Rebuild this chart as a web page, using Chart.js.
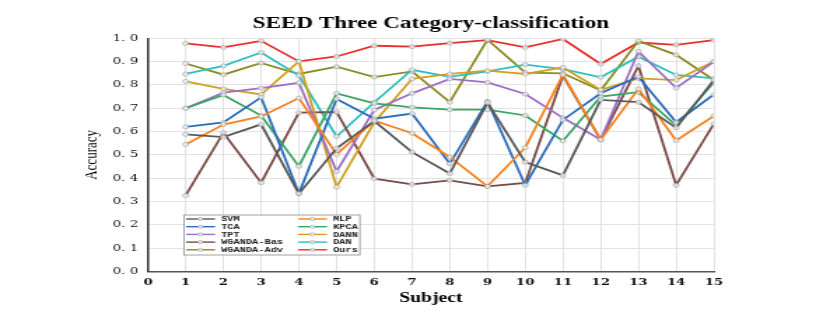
<!DOCTYPE html>
<html>
<head>
<meta charset="utf-8">
<script src="https://cdn.jsdelivr.net/npm/chart.js@4"></script>
<style>
  html, body { margin: 0; padding: 0; background: #fff; overflow: hidden; }
  #caixa { width: 593px; height: 327px; transform: scaleX(1.3997); transform-origin: 0 0; }
</style>
</head>
<body>
<div id="caixa"><canvas id="grafico" width="593" height="327"></canvas></div>
<script>
const subjects = [1, 2, 3, 4, 5, 6, 7, 8, 9, 10, 11, 12, 13, 14, 15];
const nomes = ['SVM', 'MLP', 'TCA', 'KPCA', 'TPT', 'DANN', 'WGANDA-Bas', 'DAN', 'WGANDA-Adv', 'Ours'];
const cores = ['#595959', '#f7821e', '#2b6cbd', '#38a660', '#9c70c6', '#d2a021', '#7a4a46', '#2dbfc2', '#8a8b25', '#e8302a'];

const svm = [0.588, 0.576, 0.631, 0.334, 0.528, 0.645, 0.512, 0.420, 0.724, 0.469, 0.412, 0.736, 0.726, 0.616, 0.821];
const mlp = [0.545, 0.630, 0.665, 0.744, 0.502, 0.647, 0.593, 0.491, 0.365, 0.531, 0.844, 0.565, 0.783, 0.562, 0.667];
const tca = [0.620, 0.639, 0.747, 0.334, 0.740, 0.655, 0.677, 0.462, 0.730, 0.370, 0.650, 0.764, 0.835, 0.640, 0.759];
const kpca = [0.700, 0.757, 0.669, 0.451, 0.764, 0.721, 0.704, 0.694, 0.694, 0.669, 0.560, 0.750, 0.769, 0.626, 0.811];
const tpt = [0.700, 0.767, 0.786, 0.809, 0.429, 0.693, 0.764, 0.826, 0.811, 0.761, 0.659, 0.565, 0.944, 0.787, 0.900];
const dann = [0.815, 0.783, 0.759, 0.901, 0.362, 0.640, 0.826, 0.847, 0.861, 0.847, 0.875, 0.779, 0.828, 0.821, 0.901];
const wgandaBas = [0.326, 0.595, 0.381, 0.681, 0.684, 0.398, 0.374, 0.391, 0.365, 0.380, 0.840, 0.565, 0.882, 0.370, 0.633];
const dan = [0.847, 0.882, 0.939, 0.840, 0.579, 0.726, 0.865, 0.835, 0.858, 0.887, 0.868, 0.833, 0.921, 0.843, 0.828];
const wgandaAdv = [0.892, 0.844, 0.894, 0.847, 0.878, 0.834, 0.858, 0.726, 0.994, 0.853, 0.850, 0.776, 0.989, 0.929, 0.821];
const ours = [0.978, 0.961, 0.989, 0.901, 0.922, 0.968, 0.964, 0.979, 0.992, 0.961, 0.997, 0.890, 0.982, 0.972, 0.992];

const series = [svm, mlp, tca, kpca, tpt, dann, wgandaBas, dan, wgandaAdv, ours];
const xTicks = [0, 15];
const yTicks = [0, 1];

function montarDatasets(){
    const lista = [];
    for (let i = 0; i < series.length; i++) {
        lista.push({
            label: nomes[i],
            data: subjects.map((s, j) => ({x: s, y: series[i][j]})),
            borderColor: cores[i],
            backgroundColor: 'rgba(245,245,245,0.8)',
            borderWidth: 1.8,
            pointRadius: 2,
            pointBorderColor: 'rgba(160,160,160,0.9)',
            pointBorderWidth: 0.8,
            tension: 0
        });
    }
    return lista;
}

// legenda desenhada dentro da area do grafico
const legendaCaixa = {
    id: 'legendaCaixa',
    afterDatasetsDraw(chart){
        const ctx = chart.ctx;
        const ds = chart.data.datasets;
        const x0 = 131.4, y0 = 215, w = 125.7, h = 40;
        ctx.save();
        ctx.fillStyle = '#fff';
        ctx.strokeStyle = '#8a8a8a';
        ctx.lineWidth = 0.8;
        ctx.fillRect(x0, y0, w, h);
        ctx.strokeRect(x0, y0, w, h);
        ctx.font = 'bold 7.4px "Liberation Mono"';
        ctx.textBaseline = 'middle';
        for (let i = 0; i < ds.length; i++) {
            const col = i % 2;
            const row = Math.floor(i / 2);
            const lx = x0 + 1.5 + col * 80;
            const ly = y0 + 4 + row * 7.7;
            ctx.strokeStyle = ds[i].borderColor;
            ctx.lineWidth = 1.4;
            ctx.beginPath();
            ctx.moveTo(lx, ly);
            ctx.lineTo(lx + 20.7, ly);
            ctx.stroke();
            ctx.fillStyle = 'rgba(245,245,245,0.9)';
            ctx.strokeStyle = 'rgba(160,160,160,0.9)';
            ctx.lineWidth = 0.7;
            ctx.beginPath();
            ctx.arc(lx + 10.3, ly, 1.6, 0, Math.PI * 2);
            ctx.fill();
            ctx.stroke();
            ctx.fillStyle = '#222';
            ctx.fillText(ds[i].label, lx + 25, ly + 0.5);
        }
        ctx.restore();
    }
};

function graficoSeed(){
    new Chart(document.getElementById('grafico'), {
        type: 'line',
        data: { datasets: montarDatasets() },
        plugins: [legendaCaixa],
        options: {
            responsive: false,
            animation: false,
            layout: { padding: { left: 0, right: 83, top: 0, bottom: 0 } },
            plugins: {
                legend: { display: false },
                tooltip: { enabled: false },
                title: {
                    display: true,
                    fullSize: false,
                    text: 'SEED Three Category-classification',
                    color: '#000',
                    font: { family: '"Liberation Serif"', size: 16.5, weight: 'bold' },
                    padding: { top: 14, bottom: 4.5 }
                }
            },
            scales: {
                x: {
                    type: 'linear',
                    min: xTicks[0],
                    max: xTicks[1],
                    afterFit(scale){ scale.height = 55.5; },
                    ticks: {
                        stepSize: 1,
                        padding: 5,
                        maxRotation: 0,
                        color: '#111',
                        font: { family: '"DejaVu Serif"', size: 9.5, weight: 'bold' }
                    },
                    grid: { color: '#e2e2e2', lineWidth: 1, drawTicks: false },
                    border: { color: '#555', width: 1.5 },
                    title: {
                        display: true,
                        text: 'Subject',
                        color: '#000',
                        font: { family: '"Liberation Serif"', size: 14, weight: 'bold' },
                        padding: { top: 0, bottom: 20.6 }
                    }
                },
                y: {
                    min: yTicks[0],
                    max: yTicks[1],
                    afterFit(scale){ scale.width = 105.7; },
                    ticks: {
                        stepSize: 0.1,
                        padding: 7,
                        color: '#111',
                        font: { family: '"DejaVu Serif"', size: 9.5 },
                        callback: function(v){ return v.toFixed(1).replace('.', '. '); }
                    },
                    grid: { color: '#e2e2e2', lineWidth: 1, drawTicks: false },
                    border: { color: '#333', width: 1.5 },
                    title: {
                        display: true,
                        text: 'Accuracy',
                        color: '#000',
                        font: { family: '"Liberation Serif"', size: 13 },
                        padding: { top: 58, bottom: 0 }
                    }
                }
            }
        }
    });
}

graficoSeed();
</script>
</body>
</html>
